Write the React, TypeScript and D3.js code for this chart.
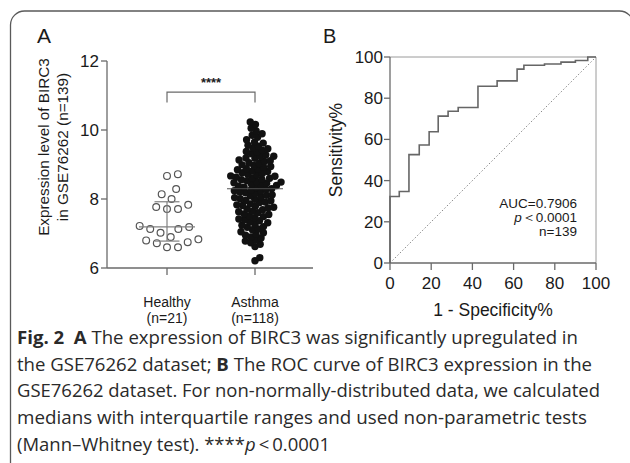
import React from "react";
import * as d3 from "d3";

// ---------- Panel A data ----------
const groups = ["Healthy", "Asthma"];
const groupN = ["(n=21)", "(n=118)"];
const healthyValues = [
  8.72, 8.67, 8.29, 8.14, 8.0, 7.83, 7.77, 7.71, 7.71, 7.22, 7.19, 7.13, 7.13, 7.02,
  6.9, 6.83, 6.8, 6.75, 6.72, 6.6, 6.6,
];
const asthmaValues = [
  6.21, 6.3, 6.62, 6.69, 6.73, 6.78, 6.81, 6.87, 6.9, 6.95, 6.98, 7.02, 7.05, 7.11, 7.13,
  7.18, 7.2, 7.24, 7.27, 7.31, 7.33, 7.37, 7.4, 7.42, 7.46, 7.49, 7.51, 7.55, 7.57, 7.6,
  7.63, 7.65, 7.69, 7.71, 7.74, 7.76, 7.79, 7.81, 7.83, 7.86, 7.9, 7.91, 7.95, 7.96, 7.99,
  8.01, 8.04, 8.06, 8.09, 8.11, 8.12, 8.16, 8.18, 8.2, 8.23, 8.24, 8.26, 8.28, 8.3, 8.33,
  8.34, 8.37, 8.39, 8.4, 8.43, 8.46, 8.47, 8.49, 8.51, 8.53, 8.56, 8.57, 8.6, 8.61, 8.63,
  8.66, 8.67, 8.7, 8.72, 8.74, 8.76, 8.8, 8.81, 8.85, 8.86, 8.88, 8.92, 8.94, 8.97, 8.99,
  9.03, 9.05, 9.09, 9.11, 9.13, 9.18, 9.19, 9.23, 9.24, 9.28, 9.31, 9.36, 9.38, 9.41,
  9.46, 9.48, 9.53, 9.56, 9.62, 9.65, 9.72, 9.79, 9.85, 9.89, 9.97, 10.05, 10.16, 10.23,
];
const medians = [7.19, 8.3];
const lowerQuartiles = [6.78, 7.6];
const upperQuartiles = [7.92, 8.95];
const yTicksA = [6, 8, 10, 12];
const significance = "****";

// ---------- Panel B data (ROC corners) ----------
const rocFpr = [0, 0, 4.5, 9.2, 14.2, 19.0, 23.4, 28.2, 33.1, 42.7, 52.0, 61.7, 65.0, 75.0, 83.0, 90.0, 96.0, 100];
const rocTpr = [0, 32.3, 34.7, 52.6, 57.3, 63.7, 71.3, 73.7, 75.5, 85.8, 88.4, 94.1, 96.0, 96.6, 97.5, 98.3, 100, 100];
const rocTicks = [0, 20, 40, 60, 80, 100];
const rocStats = ["AUC=0.7906", "p", "n=139"];

// ---------- Caption ----------
type Seg = { t: string; b?: boolean; i?: boolean };
const captionLines: Seg[][] = [
  [{ t: "Fig. 2", b: true }, { t: "  " }, { t: "A", b: true }, { t: " The expression of BIRC3 was significantly upregulated in" }],
  [{ t: "the GSE76262 dataset; " }, { t: "B", b: true }, { t: " The ROC curve of BIRC3 expression in the" }],
  [{ t: "GSE76262 dataset. For non-normally-distributed data, we calculated" }],
  [{ t: "medians with interquartile ranges and used non-parametric tests" }],
  [{ t: "(Mann\u2013Whitney test). ****" }, { t: "p", i: true }, { t: "\u2009<\u20090.0001" }],
];
const captionWidths = [561, 575, 583, 570, 313];

const SANS = "'Liberation Sans', Arial, Helvetica, sans-serif";
const CAP = "'Open Sans', 'Noto Sans', sans-serif";

type P = { v: number; y: number; dx: number };
function swarm(values: number[], y: (v: number) => number, dist: number): P[] {
  const pts: P[] = values.map((v) => ({ v, y: y(v), dx: 0 })).sort((a, b) => a.v - b.v);
  const placed: P[] = [];
  const d2 = dist * dist;
  for (const p of pts) {
    const near = placed.filter((q) => Math.abs(q.y - p.y) < dist);
    const cands = [0];
    for (const q of near) {
      const h = Math.sqrt(d2 - (q.y - p.y) ** 2);
      cands.push(q.dx + h, q.dx - h);
    }
    cands.sort((a, b) => Math.abs(a) - Math.abs(b));
    for (const c of cands) {
      if (near.every((q) => (q.dx - c) ** 2 + (q.y - p.y) ** 2 >= d2 - 1e-6)) {
        p.dx = c;
        break;
      }
    }
    placed.push(p);
  }
  return placed;
}

export default function App() {
  // Panel A scales
  const yA = d3.scaleLinear().domain([6, 12]).range([268, 61]);
  const xA = d3.scalePoint<string>().domain(groups).range([167, 255]);
  const axisXLeft = 107;
  const axisXRight = 313;

  const healthy = swarm(healthyValues, yA, 11);
  const asthma = swarm(asthmaValues, yA, 5.7);

  // Panel B scales
  const xB = d3.scaleLinear().domain([0, 100]).range([390, 596]);
  const yB = d3.scaleLinear().domain([0, 100]).range([263, 57]);
  const rocLine = d3
    .line<number>()
    .x((_, i) => xB(rocFpr[i]))
    .y((d) => yB(d))
    .curve(d3.curveStepAfter);

  const gray = "#6a6a6a";
  const text = "#1a1a1a";

  const summary = (g: string, i: number, full: boolean) => {
    const cx = xA(g)!;
    return (
      <g key={"s" + g + full} stroke="#808080" strokeWidth={1.2}>
        <line x1={cx - 28} x2={cx + 28} y1={yA(medians[i])} y2={yA(medians[i])} />
        {full && (
          <>
            <line x1={cx - 12.5} x2={cx + 12.5} y1={yA(lowerQuartiles[i])} y2={yA(lowerQuartiles[i])} />
            <line x1={cx - 12.5} x2={cx + 12.5} y1={yA(upperQuartiles[i])} y2={yA(upperQuartiles[i])} />
            <line x1={cx} x2={cx} y1={yA(lowerQuartiles[i])} y2={yA(upperQuartiles[i])} />
          </>
        )}
      </g>
    );
  };

  return (
    <svg
      width={630}
      height={463}
      style={{ position: "absolute", left: 0, top: 0, background: "#fff" }}
      fontFamily={SANS}
    >
      <rect x={0} y={0} width={630} height={463} fill="#fff" />
      {/* card border */}
      <rect x={10.5} y={11} width={623} height={470} rx={14} fill="none" stroke="#5a5a5a" strokeWidth={1.3} />

      {/* ---------------- Panel A ---------------- */}
      <text x={37} y={43} fontSize={21} fill={text}>A</text>
      <g fill={text}>
        <text transform="translate(49,147) rotate(-90)" textAnchor="middle" fontSize={15.3}>
          Expression level of BIRC3
        </text>
        <text transform="translate(68,147) rotate(-90)" textAnchor="middle" fontSize={15.3}>
          in GSE76262 (n=139)
        </text>
      </g>
      {/* y axis */}
      <line x1={axisXLeft} x2={axisXLeft} y1={yA(12)} y2={yA(6)} stroke={gray} strokeWidth={1.3} />
      {yTicksA.map((t) => (
        <g key={t}>
          <line x1={axisXLeft - 6} x2={axisXLeft} y1={yA(t)} y2={yA(t)} stroke={gray} strokeWidth={1.3} />
          <text x={axisXLeft - 8} y={yA(t) + 6} textAnchor="end" fontSize={17} fill={text}>
            {t}
          </text>
        </g>
      ))}
      {/* x axis */}
      <line x1={axisXLeft} x2={axisXRight} y1={yA(6)} y2={yA(6)} stroke={gray} strokeWidth={1.3} />
      {groups.map((g, i) => (
        <g key={g}>
          <line x1={xA(g)!} x2={xA(g)!} y1={yA(6)} y2={yA(6) + 7} stroke={gray} strokeWidth={1.3} />
          <text x={xA(g)!} y={307} textAnchor="middle" fontSize={14} fill={text}>{g}</text>
          <text x={xA(g)!} y={323} textAnchor="middle" fontSize={14} fill={text}>{groupN[i]}</text>
        </g>
      ))}
      {/* significance bracket */}
      <path
        d={`M${xA("Healthy")},${yA(10.8)} V${yA(11.1)} H${xA("Asthma")} V${yA(10.8)}`}
        fill="none"
        stroke={gray}
        strokeWidth={1.2}
      />
      <text x={(xA("Healthy")! + xA("Asthma")!) / 2} y={87} textAnchor="middle" fontSize={13} fontWeight={700} fill={text}>
        {significance}
      </text>

      {/* Asthma summary under the dots */}
      {summary("Asthma", 1, true)}
      {/* Healthy points */}
      {healthy.map((p, i) => (
        <circle key={"h" + i} cx={xA("Healthy")! + p.dx} cy={p.y} r={3.4} fill="#fff" stroke="#555" strokeWidth={1.2} />
      ))}
      {/* Asthma points */}
      {asthma.map((p, i) => (
        <circle key={"a" + i} cx={xA("Asthma")! + p.dx} cy={p.y} r={3.7} fill="#111" />
      ))}
      {/* Healthy summary over the circles, Asthma median faintly over the dots */}
      {summary("Healthy", 0, true)}
      <g opacity={0.45}>{summary("Asthma", 1, false)}</g>

      {/* ---------------- Panel B ---------------- */}
      <text x={323} y={43} fontSize={20} fill={text}>B</text>
      <text transform="translate(342,150) rotate(-90)" textAnchor="middle" fontSize={17.5} fill={text}>
        Sensitivity%
      </text>
      <text x={(xB(0) + xB(100)) / 2} y={316} textAnchor="middle" fontSize={17.5} fill={text}>
        1 - Specificity%
      </text>
      {/* frame */}
      <path d={`M${xB(0)},${yB(100)} H${xB(100)} V${yB(0)}`} fill="none" stroke="#9a9a9a" strokeWidth={1} />
      {/* diagonal */}
      <line x1={xB(0)} y1={yB(0)} x2={xB(100)} y2={yB(100)} stroke="#8a8a8a" strokeWidth={1} strokeDasharray="1.5,2" />
      {/* axes */}
      <line x1={xB(0)} x2={xB(0)} y1={yB(0)} y2={yB(100)} stroke={gray} strokeWidth={1.3} />
      <line x1={xB(0)} x2={xB(100)} y1={yB(0)} y2={yB(0)} stroke={gray} strokeWidth={1.3} />
      {rocTicks.map((t) => (
        <g key={"b" + t}>
          <line x1={xB(0) - 6} x2={xB(0)} y1={yB(t)} y2={yB(t)} stroke={gray} strokeWidth={1.3} />
          <text x={xB(0) - 7} y={yB(t) + 6} textAnchor="end" fontSize={17} fill={text}>{t}</text>
          <line x1={xB(t)} x2={xB(t)} y1={yB(0)} y2={yB(0) + 7} stroke={gray} strokeWidth={1.3} />
          <text x={xB(t)} y={289} textAnchor="middle" fontSize={17} fill={text}>{t}</text>
        </g>
      ))}
      {/* ROC curve */}
      <path d={rocLine(rocTpr) ?? ""} fill="none" stroke="#666" strokeWidth={1.6} />
      {/* stats */}
      <g fontSize={13.5} fill={text} textAnchor="end">
        <text x={577} y={208}>{rocStats[0]}</text>
        <text x={577} y={222}>
          <tspan fontStyle="italic">{rocStats[1]}</tspan>
          <tspan>{"\uFF1C0.0001"}</tspan>
        </text>
        <text x={577} y={236}>{rocStats[2]}</text>
      </g>

      {/* ---------------- Caption ---------------- */}
      {captionLines.map((segs, li) => (
        <text
          key={"c" + li}
          x={17}
          y={344 + li * 26.7}
          fontFamily={CAP}
          fontSize={17.5}
          fill="#2a2a2a"
          textLength={captionWidths[li]}
          lengthAdjust="spacingAndGlyphs"
          style={{ whiteSpace: "pre" }}
        >
          {segs.map((s, si) => (
            <tspan key={si} fontWeight={s.b ? 700 : 400} fontStyle={s.i ? "italic" : "normal"}>
              {s.t}
            </tspan>
          ))}
        </text>
      ))}
    </svg>
  );
}
